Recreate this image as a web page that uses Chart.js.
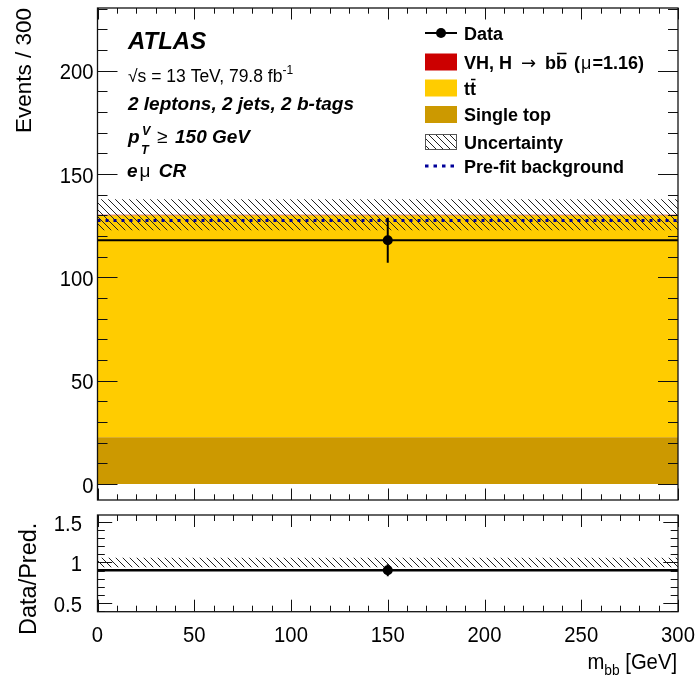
<!DOCTYPE html>
<html>
<head>
<meta charset="utf-8">
<script src="https://cdn.jsdelivr.net/npm/chart.js@4/dist/chart.umd.min.js"></script>
<style>
  html, body { margin: 0; padding: 0; background: #fff; }
  #wrap { position: relative; width: 699px; height: 680px; }
  #main { position: absolute; left: 0; top: 0; }
  #ratio { position: absolute; left: 0; top: 505px; }
</style>
</head>
<body>
<div id="wrap">
  <canvas id="main" width="699" height="510"></canvas>
  <canvas id="ratio" width="699" height="175"></canvas>
</div>
<script>
// one bin, m_bb from 0 to 300 GeV
const binEdges = [0, 300];
const singleTop = [22.7];
const ttbar = [107.3];
const vhSignal = [0.3];
const predTotal = [130.3];
const predUnc = [7.5];
const prefitBkg = [127.6];
const dataCounts = [118];
const dataErr = [10.9];
const ratioVals = [0.905];
const ratioErr = [0.075];
const ratioUnc = [0.057];

const xTicks = [0, 50, 100, 150, 200, 250, 300];
const mainYTicks = [0, 50, 100, 150, 200];
const ratioYTicks = [0.5, 1, 1.5];

const FONT = '"Liberation Sans", Arial, sans-serif';
const f = (size, style = "") => `${style} ${size}px ${FONT}`.trim();

const makeHatch = () => {
  const s = 7;
  const c = document.createElement("canvas");
  c.width = s;
  c.height = s;
  const g = c.getContext("2d");
  g.strokeStyle = "#222";
  g.lineWidth = 1;
  g.beginPath();
  g.moveTo(0, 0); g.lineTo(s, s);
  g.moveTo(s - 1, -1); g.lineTo(s + 1, 1);
  g.moveTo(-1, s - 1); g.lineTo(1, s + 1);
  g.stroke();
  return g.createPattern(c, "repeat");
};
const hatch = makeHatch();

// flat line over each bin
const binLine = (values) =>
  binEdges.map((x, i) => ({ x, y: values[Math.min(i, values.length - 1)] }));
const binCenters = binEdges.slice(1).map((e, i) => (e + binEdges[i]) / 2);
const errSegs = (vals, errs) =>
  binCenters.flatMap((x, i) => [{ x, y: vals[i] - errs[i] }, { x, y: vals[i] + errs[i] }]);
const points = (vals) => binCenters.map((x, i) => ({ x, y: vals[i] }));

const lineDs = (data, extra) => ({
  data,
  pointRadius: 0,
  borderWidth: 0,
  fill: false,
  ...extra,
});

function drawRuns(ctx, x, y, parts, align = "left", sx = 1) {
  let w = 0;
  for (const p of parts) {
    ctx.font = p.font;
    p.w = ctx.measureText(p.t).width * sx;
    w += p.w + (p.kern || 0);
  }
  let cx = align === "right" ? x - w : align === "center" ? x - w / 2 : x;
  for (const p of parts) {
    ctx.font = p.font;
    ctx.save();
    ctx.translate(cx, y + (p.dy || 0));
    ctx.scale(sx, 1);
    ctx.fillText(p.t, 0, 0);
    ctx.restore();
    if (p.bar) {
      const top = y + (p.dy || 0) - p.bar;
      ctx.beginPath();
      ctx.moveTo(cx + 1, top);
      ctx.lineTo(cx + p.w - 0.5, top);
      ctx.lineWidth = 1.5;
      ctx.stroke();
    }
    cx += p.w + (p.kern || 0);
  }
}

function drawFrameTicks(chart, o) {
  const { ctx, chartArea: a } = chart;
  const x = chart.scales.x;
  const y = chart.scales.y;
  ctx.save();
  ctx.strokeStyle = "#111";
  ctx.lineWidth = 1;
  ctx.beginPath();
  const nx = Math.round((x.max - x.min) / o.xMinor);
  for (let i = 0; i <= nx; i++) {
    const v = x.min + i * o.xMinor;
    const major = Math.abs(v / o.xMajor - Math.round(v / o.xMajor)) < 1e-6;
    const len = major ? o.xMajLen : o.xMinLen;
    const px = Math.round(x.getPixelForValue(v)) + 0.5;
    ctx.moveTo(px, a.bottom); ctx.lineTo(px, a.bottom - len);
    ctx.moveTo(px, a.top); ctx.lineTo(px, a.top + len);
  }
  const y0 = Math.ceil(y.min / o.yMinor - 1e-6);
  const y1 = Math.floor(y.max / o.yMinor + 1e-6);
  for (let i = y0; i <= y1; i++) {
    const v = i * o.yMinor;
    const major = Math.abs(v / o.yMajor - Math.round(v / o.yMajor)) < 1e-6;
    const len = major ? o.yMajLen : o.yMinLen;
    const py = Math.round(y.getPixelForValue(v)) + 0.5;
    ctx.moveTo(a.left, py); ctx.lineTo(a.left + len, py);
    ctx.moveTo(a.right, py); ctx.lineTo(a.right - len, py);
  }
  ctx.stroke();
  ctx.lineWidth = 1.3;
  ctx.strokeRect(a.left, a.top, a.right - a.left, a.bottom - a.top);
  ctx.restore();
}

const atlasDecor = {
  id: "atlasDecor",
  afterDraw(chart, args, opts) {
    const { ctx } = chart;
    const x = chart.scales.x;
    const y = chart.scales.y;
    drawFrameTicks(chart, opts.ticks);
    ctx.save();
    ctx.fillStyle = "#000";
    ctx.strokeStyle = "#000";
    ctx.textBaseline = "alphabetic";
    ctx.textAlign = "left";

    if (opts.panel === "main") {
      mainYTicks.forEach((v) => {
        drawRuns(ctx, 93.5, y.getPixelForValue(v) + 8.5, [{ t: String(v), font: f(22.5) }], "right", 0.9);
      });
      ctx.save();
      ctx.translate(31, 8);
      ctx.rotate(-Math.PI / 2);
      drawRuns(ctx, 0, 0, [{ t: "Events / 300", font: f(22.5) }], "right");
      ctx.restore();

      // labels
      drawRuns(ctx, 128, 49, [{ t: "ATLAS", font: f(24, "italic bold") }]);
      drawRuns(ctx, 128, 82, [
        { t: "\u221As = 13 TeV, 79.8 fb", font: f(17.5) },
        { t: "-1", font: f(12), dy: -8 },
      ]);
      drawRuns(ctx, 128, 110, [{ t: "2 leptons, 2 jets, 2 b-tags", font: f(19, "italic bold") }]);
      drawRuns(ctx, 128, 143, [{ t: "p", font: f(19, "italic bold") }]);
      drawRuns(ctx, 142, 135, [{ t: "V", font: f(12.5, "italic bold") }]);
      drawRuns(ctx, 141, 154, [{ t: "T", font: f(12.5, "italic bold") }]);
      drawRuns(ctx, 157, 143, [{ t: "\u2265", font: f(19) }]);
      drawRuns(ctx, 175, 143, [{ t: "150 GeV", font: f(19, "italic bold") }]);
      drawRuns(ctx, 127, 176.7, [
        { t: "e", font: f(19, "italic bold"), kern: 2 },
        { t: "\u03BC", font: f(19), kern: 3 },
        { t: " CR", font: f(19, "italic bold") },
      ]);

      // legend
      const lx = 464, mx0 = 425, mx1 = 457;
      const rows = [33, 62, 88, 114.5, 142, 166];
      const bold = f(18, "bold");
      ctx.beginPath();
      ctx.lineWidth = 2;
      ctx.moveTo(mx0, rows[0]); ctx.lineTo(mx1, rows[0]);
      ctx.stroke();
      ctx.beginPath();
      ctx.arc((mx0 + mx1) / 2, rows[0], 5, 0, Math.PI * 2);
      ctx.fill();
      drawRuns(ctx, lx, rows[0] + 6.5, [{ t: "Data", font: bold }]);

      const boxes = ["#cc0000", "#ffcc00", "#cc9900"];
      boxes.forEach((c, i) => {
        ctx.fillStyle = c;
        ctx.fillRect(mx0, rows[i + 1] - 8.5, mx1 - mx0, 17);
      });
      ctx.fillStyle = hatch;
      ctx.fillRect(mx0, rows[4] - 8, mx1 - mx0, 16);
      ctx.lineWidth = 1;
      ctx.strokeStyle = "#555";
      ctx.strokeRect(mx0 + 0.5, rows[4] - 7.5, mx1 - mx0 - 1, 15);
      ctx.strokeStyle = "#000099";
      ctx.lineWidth = 3;
      ctx.setLineDash([3.5, 5]);
      ctx.beginPath();
      ctx.moveTo(mx0, rows[5]); ctx.lineTo(mx1, rows[5]);
      ctx.stroke();
      ctx.setLineDash([]);
      ctx.fillStyle = "#000";
      ctx.strokeStyle = "#000";

      drawRuns(ctx, lx, rows[1] + 6.5, [
        { t: "VH, H ", font: bold, kern: 4 },
        { t: "\u2192", font: '18px "DejaVu Sans", sans-serif', kern: 4 },
        { t: " b", font: bold },
        { t: "b", font: bold, bar: 15, kern: 2 },
        { t: " (", font: bold, kern: 1 },
        { t: "\u03BC", font: f(18), kern: 1 },
        { t: "=1.16)", font: bold },
      ]);
      drawRuns(ctx, lx, rows[2] + 6.5, [
        { t: "t", font: bold },
        { t: "t", font: bold, bar: 15 },
      ]);
      drawRuns(ctx, lx, rows[3] + 6.5, [{ t: "Single top", font: bold }]);
      drawRuns(ctx, lx, rows[4] + 6.5, [{ t: "Uncertainty", font: bold }]);
      drawRuns(ctx, lx, rows[5] + 6.5, [{ t: "Pre-fit background", font: bold }]);
    } else {
      ratioYTicks.forEach((v) => {
        drawRuns(ctx, 82, y.getPixelForValue(v) + 9, [{ t: String(v), font: f(22.5) }], "right", 0.9);
      });
      xTicks.forEach((v) => {
        drawRuns(ctx, x.getPixelForValue(v), 137, [{ t: String(v), font: f(22.5) }], "center", 0.9);
      });
      drawRuns(ctx, 677, 164, [
        { t: "m", font: f(22) },
        { t: "bb", font: f(15), dy: 6 },
        { t: " [GeV]", font: f(22) },
      ], "right", 0.92);
      ctx.save();
      ctx.translate(36, 130);
      ctx.rotate(-Math.PI / 2);
      drawRuns(ctx, 0, 0, [{ t: "Data/Pred.", font: f(23.5) }]);
      ctx.restore();
    }
    ctx.restore();
  },
};

const bandLow = predTotal.map((v, i) => v - predUnc[i]);
const bandHigh = predTotal.map((v, i) => v + predUnc[i]);

const baseOptions = (padding, yMin, yMax, panel, ticks) => ({
  responsive: false,
  animation: false,
  devicePixelRatio: 1,
  events: [],
  layout: { padding },
  plugins: {
    legend: { display: false },
    tooltip: { enabled: false },
    atlasDecor: { panel, ticks },
  },
  scales: {
    x: { type: "linear", min: binEdges[0], max: binEdges[binEdges.length - 1], display: false },
    y: { type: "linear", min: yMin, max: yMax, display: false, stacked: true },
  },
});

// datasets listed top-most first (Chart.js draws index 0 last)
const mainChart = new Chart(document.getElementById("main"), {
  type: "line",
  data: {
    datasets: [
      lineDs(points(dataCounts), { stack: "dp", showLine: false, pointRadius: 5, pointBackgroundColor: "#000", pointBorderWidth: 0 }),
      lineDs(errSegs(dataCounts, dataErr), { stack: "de", borderColor: "#000", borderWidth: 2 }),
      lineDs(binLine(dataCounts), { stack: "dh", borderColor: "#000", borderWidth: 2 }),
      lineDs(binLine(prefitBkg), { stack: "pre", borderColor: "#000099", borderWidth: 3, borderDash: [3, 5] }),
      lineDs(binLine(bandHigh), { stack: "uHi", fill: "+1", backgroundColor: hatch }),
      lineDs(binLine(bandLow), { stack: "uLo" }),
      lineDs(binLine(singleTop), { stack: "mc", fill: "origin", backgroundColor: "#cc9900" }),
      lineDs(binLine(ttbar), { stack: "mc", fill: "-1", backgroundColor: "#ffcc00" }),
      lineDs(binLine(vhSignal), { stack: "mc", fill: "-1", backgroundColor: "#cc0000" }),
    ],
  },
  options: baseOptions({ left: 97.5, right: 21, top: 8, bottom: 10 }, -7.7, 230.4, "main",
    { xMajor: 50, xMinor: 10, xMajLen: 11.5, xMinLen: 5.7, yMajor: 50, yMinor: 10, yMajLen: 20, yMinLen: 10 }),
  plugins: [atlasDecor],
});

const ratioLow = ratioUnc.map((u) => 1 - u);
const ratioHigh = ratioUnc.map((u) => 1 + u);

const ratioChart = new Chart(document.getElementById("ratio"), {
  type: "line",
  data: {
    datasets: [
      lineDs(points(ratioVals), { stack: "dp", showLine: false, pointRadius: 5, pointBackgroundColor: "#000", pointBorderWidth: 0 }),
      lineDs(errSegs(ratioVals, ratioErr), { stack: "de", borderColor: "#000", borderWidth: 2 }),
      lineDs(binLine(ratioVals), { stack: "dh", borderColor: "#000", borderWidth: 2.5 }),
      lineDs(binLine(ratioHigh), { stack: "uHi", fill: "+1", backgroundColor: hatch }),
      lineDs(binLine(ratioLow), { stack: "uLo" }),
    ],
  },
  options: baseOptions({ left: 97.5, right: 21, top: 10, bottom: 68.3 }, 0.397, 1.582, "ratio",
    { xMajor: 50, xMinor: 10, xMajLen: 12, xMinLen: 6, yMajor: 0.5, yMinor: 0.1, yMajLen: 14.7, yMinLen: 7.3 }),
  plugins: [atlasDecor],
});
</script>
</body>
</html>
